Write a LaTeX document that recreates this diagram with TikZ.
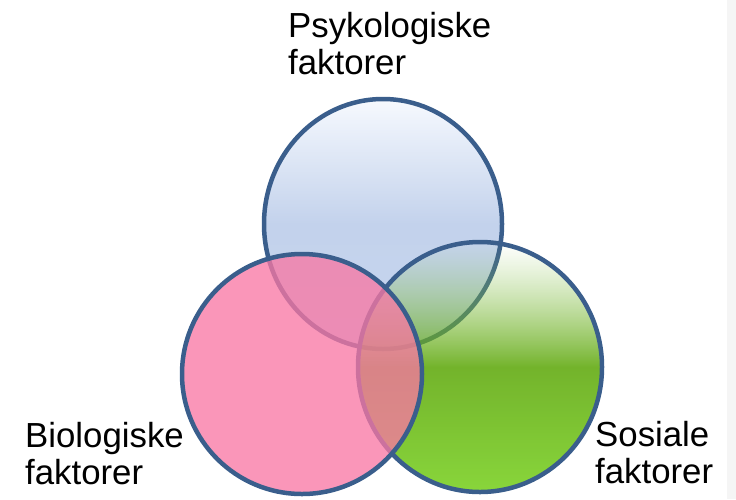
\documentclass[tikz,border=0pt]{standalone}
\usepackage{fontspec}
\setmainfont{Liberation Sans}
\usepackage{xcolor}
\usetikzlibrary{fadings}

\definecolor{ringblue}{RGB}{58,94,140}
\definecolor{psytop}{RGB}{246,249,254}
\definecolor{psymid}{RGB}{195,210,236}
\definecolor{psybot}{RGB}{198,213,238}
\definecolor{sostop}{RGB}{150,200,100}
\definecolor{sosmid}{RGB}{96,169,14}
\definecolor{sosbot}{RGB}{120,208,32}
\definecolor{biofill}{RGB}{248,119,164}

\tikzfading[name=fade down,top color=transparent!100,
    bottom color=transparent!12,middle color=transparent!12]

\begin{document}
\begin{tikzpicture}[
    x=1pt,y=-1pt,
    ring/.style={draw=ringblue,line width=4.5pt},
    factortext/.style={align=left,anchor=north west,inner sep=0pt,
        font=\fontsize{34.8}{37}\selectfont}
]
\useasboundingbox (0,0) rectangle (736,499);
\fill[black!4] (727,0) rectangle (736,499);
\coordinate (psy) at (383,224);
\coordinate (bio) at (302,374);
\coordinate (sos) at (480,367);
% psychological (bottom layer)
\shade[top color=psytop,bottom color=psybot,middle color=psymid]
    (psy) ellipse [x radius=119,y radius=125];
\draw[ring] (psy) ellipse [x radius=119,y radius=125];
% social
\shade[path fading=fade down,top color=sostop,bottom color=sosbot,
    middle color=sosmid] (sos) ellipse [x radius=122,y radius=125];
\draw[ring] (sos) ellipse [x radius=122,y radius=125];
% biological (top layer)
\fill[biofill,fill opacity=0.77] (bio) circle [radius=120];
\draw[ring] (bio) circle [radius=120];
\node[factortext] (psylabel) at (288,12) {Psykologiske\\faktorer};
\node[factortext] (biolabel) at (25,422) {Biologiske\\faktorer};
\node[factortext] (soslabel) at (595,421) {Sosiale\\faktorer};
\end{tikzpicture}
\end{document}
